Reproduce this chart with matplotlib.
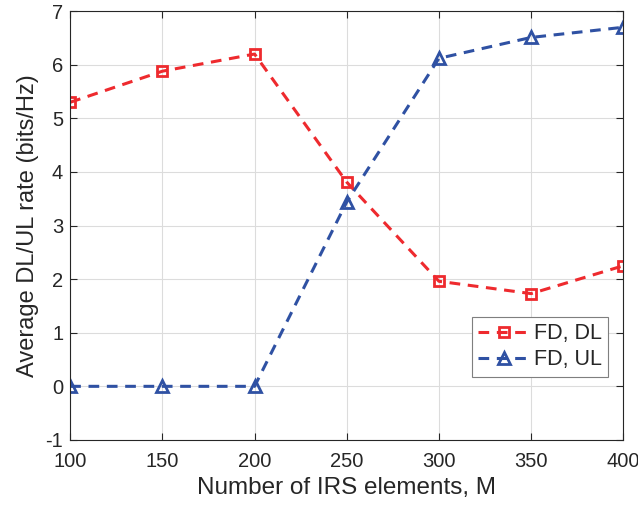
import numpy as np
import matplotlib
matplotlib.use('Agg')
import matplotlib.pyplot as plt

plt.rcParams['font.family'] = ['Liberation Sans', 'DejaVu Sans']
plt.rcParams['axes.unicode_minus'] = False

# IRS element counts and average rates (bits/Hz)
irs_elements = [100, 150, 200, 250, 300, 350, 400]
fd_dl_rate = [5.30, 5.88, 6.20, 3.81, 1.96, 1.73, 2.25]
fd_ul_rate = [0.0, 0.0, 0.0, 3.44, 6.12, 6.51, 6.70]

RED = "#EE2A2E"
BLUE = "#2F51A3"
TXT = "#262626"

fig = plt.figure(figsize=(6.38, 5.08), dpi=100)
ax = fig.add_axes([0.110, 0.134, 0.867, 0.844])

ax.plot(irs_elements, fd_dl_rate, "--", color=RED, lw=2.2,
        marker="s", ms=7, mfc="none", mew=2, label="FD, DL",
        dashes=(3.5, 2.5))
ax.plot(irs_elements, fd_ul_rate, "--", color=BLUE, lw=2.2,
        marker="^", ms=9, mfc="none", mew=2, label="FD, UL",
        dashes=(3.5, 2.5))

ax.set_xlim(100, 400)
ax.set_ylim(-1, 7)
ax.set_xticks(np.arange(100, 401, 50))
ax.set_yticks(np.arange(-1, 8, 1))
ax.grid(True, color="#DCDCDC", lw=0.8)
ax.set_axisbelow(True)
ax.tick_params(direction="in", top=True, right=True, length=5,
               labelsize=14.5, colors=TXT)
ax.tick_params(axis="x", pad=9)
ax.tick_params(axis="y", pad=5)
for sp in ax.spines.values():
    sp.set_color(TXT)
    sp.set_linewidth(0.8)

ax.set_xlabel("Number of IRS elements, M", fontsize=17.5, color=TXT,
              labelpad=4)
ax.set_ylabel("Average DL/UL rate (bits/Hz)", fontsize=17, color=TXT,
              labelpad=5)

leg = ax.legend(loc="lower right", bbox_to_anchor=(0.973, 0.147),
                fontsize=15.5, fancybox=False, framealpha=1,
                edgecolor="#7F7F7F", handlelength=2.4, borderpad=0.3,
                labelspacing=0.25, handletextpad=0.2, borderaxespad=0)
leg.get_frame().set_linewidth(0.8)
for t in leg.get_texts():
    t.set_color(TXT)

plt.savefig("out.png", dpi=100)
plt.close()
